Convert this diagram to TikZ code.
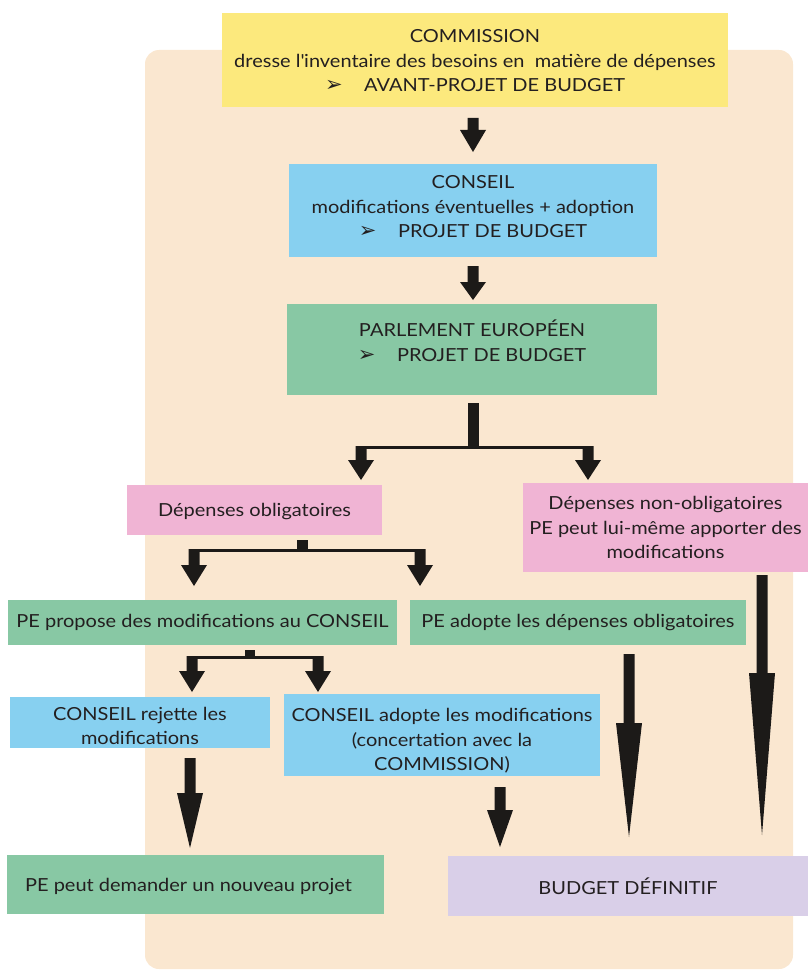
\documentclass[tikz,border=0pt]{standalone}
\usepackage{fontspec}
\setmainfont{Lato}[FakeStretch=1.11]
\newfontfamily\symf{DejaVu Sans}
\definecolor{bgc}{RGB}{250,231,208}
\definecolor{yel}{RGB}{252,233,125}
\definecolor{blu}{RGB}{135,208,240}
\definecolor{grn}{RGB}{136,200,164}
\definecolor{pnk}{RGB}{240,180,212}
\definecolor{lav}{RGB}{217,207,232}
\definecolor{arrowc}{RGB}{28,26,24}
\definecolor{txt}{RGB}{35,31,32}
\newcommand\tip{{\symf\fontsize{21}{21}\selectfont ➢}\hspace{1.2em}}
\newcommand\barr[4]{%
  \fill[arrowc] ({#1-5.5},#2) -- ({#1+5.5},#2) -- ({#1+5.5},#3) -- ({#1+13},#3) -- (#1,#4) -- ({#1-13},#3) -- ({#1-5.5},#3) -- cycle;}
\begin{document}
\begin{tikzpicture}[x=1pt,y=-1pt,
  box/.style={inner sep=0pt},
  lbl/.style={inner sep=0pt, align=center, text=txt, font=\fontsize{18}{24.5}\selectfont}]
\useasboundingbox (0,0) rectangle (808,971);
\fill[bgc, rounded corners=14pt] (145,50) rectangle (793,969);
% boxes
\node[box, fill=yel, minimum width=506pt, minimum height=94pt,
  label={[lbl, yshift=-1pt]center:{COMMISSION\\dresse l\textquotesingle inventaire des besoins en\ \ matière de dépenses\\\tip AVANT-PROJET DE BUDGET}}] (comm) at (475,60) {};
\node[box, fill=blu, minimum width=368pt, minimum height=93pt,
  label={[lbl, yshift=3.5pt]center:{CONSEIL\\modifications éventuelles + adoption\\\tip PROJET DE BUDGET}}] (cons) at (473,210.5) {};
\node[box, fill=grn, minimum width=370pt, minimum height=91pt,
  label={[lbl, yshift=9pt]center:{PARLEMENT EUROPÉEN\\\tip PROJET DE BUDGET}}] (parl) at (472,349.5) {};
\node[box, fill=pnk, minimum width=255pt, minimum height=50pt,
  label={[lbl, yshift=-1.5pt]center:{Dépenses obligatoires}}] (dobl) at (254.5,510) {};
\node[box, fill=pnk, minimum width=285pt, minimum height=89pt,
  label={[lbl]center:{Dépenses non-obligatoires\\PE peut lui-même apporter des\\modifications}}] (dnob) at (665.5,527.5) {};
\node[box, fill=grn, minimum width=389pt, minimum height=45pt,
  label={[lbl]center:{PE propose des modifications au CONSEIL}}] (pepro) at (202.5,622.5) {};
\node[box, fill=grn, minimum width=336pt, minimum height=45pt,
  label={[lbl]center:{PE adopte les dépenses obligatoires}}] (peado) at (578,622.5) {};
\node[box, fill=blu, minimum width=260pt, minimum height=51pt,
  label={[lbl, yshift=-3.5pt]center:{CONSEIL rejette les\\modifications}}] (crej) at (140,722.5) {};
\node[box, fill=blu, minimum width=316pt, minimum height=82pt,
  label={[lbl, yshift=-6pt]center:{CONSEIL adopte les modifications\\(concertation avec la\\COMMISSION)}}] (cado) at (442,735) {};
\node[box, fill=grn, minimum width=377pt, minimum height=59pt,
  label={[lbl, yshift=-1.5pt, xshift=-7pt]center:{PE peut demander un nouveau projet}}] (penouv) at (195.5,884.5) {};
\node[box, fill=lav, minimum width=360pt, minimum height=60pt,
  label={[lbl]center:{BUDGET DÉFINITIF}}] (budget) at (628,886) {};
% arrows
\barr{473}{118}{130}{152}
\barr{473}{266}{282}{300}
% split 1
\fill[arrowc] (467.5,403) rectangle (478.5,449);
\fill[arrowc] (356,446) rectangle (593,449);
\barr{361}{446}{460}{480}
\barr{588}{446}{460}{480}
% split 2
\fill[arrowc] (296.5,540) rectangle (307.5,552);
\fill[arrowc] (189,549) rectangle (425,552);
\barr{194}{549}{565}{586}
\barr{420}{549}{565}{586}
% split 3
\fill[arrowc] (245,650) rectangle (255,659);
\fill[arrowc] (187,656) rectangle (323,659);
\barr{192}{656}{671}{692}
\barr{318}{656}{671}{692}
% lower arrows
\barr{190}{758}{793}{848}
\barr{500}{787}{810}{847}
\barr{629}{654}{723}{837}
\barr{762}{575}{673}{835}
\end{tikzpicture}
\end{document}
